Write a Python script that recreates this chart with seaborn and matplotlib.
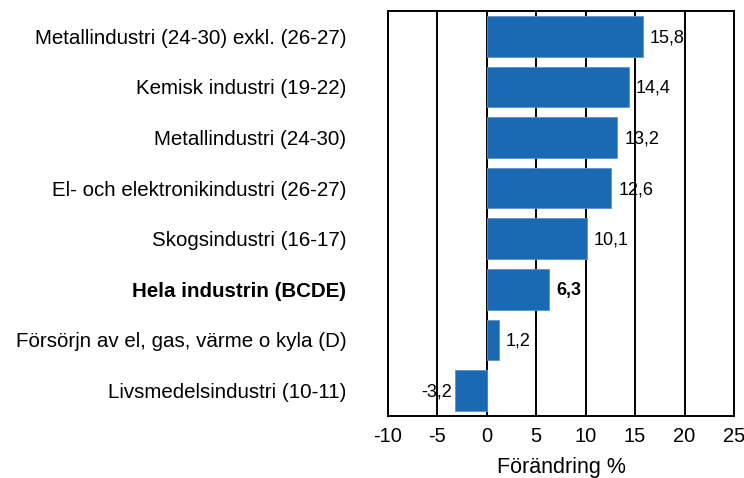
import matplotlib
matplotlib.use('Agg')
import matplotlib.pyplot as plt
import seaborn as sns
import pandas as pd

# Data
categories = [
    "Metallindustri (24-30) exkl. (26-27)",
    "Kemisk industri (19-22)",
    "Metallindustri (24-30)",
    "El- och elektronikindustri (26-27)",
    "Skogsindustri (16-17)",
    "Hela industrin (BCDE)",
    "Försörjn av el, gas, värme o kyla (D)",
    "Livsmedelsindustri (10-11)",
]
values = [15.8, 14.4, 13.2, 12.6, 10.1, 6.3, 1.2, -3.2]
bold_category = "Hela industrin (BCDE)"
x_ticks = [-10, -5, 0, 5, 10, 15, 20, 25]

df = pd.DataFrame({"kategori": categories, "forandring": values})

sns.set_style("white")
plt.rcParams["font.family"] = ["Liberation Sans", "DejaVu Sans"]
plt.rcParams["text.color"] = "black"
plt.rcParams["axes.labelcolor"] = "black"
plt.rcParams["xtick.color"] = "black"
plt.rcParams["ytick.color"] = "black"

fig = plt.figure(figsize=(7.44, 4.78), dpi=100)
ax = fig.add_axes([0.5215, 0.13, 0.465, 0.847])

sns.barplot(data=df, x="forandring", y="kategori", orient="h",
            color="#1a69b3", saturation=1, width=0.8, ax=ax,
            edgecolor="#5b95cf", linewidth=0.6, zorder=3)

ax.set_xlim(-10, 25)
ax.set_xticks(x_ticks)
ax.set_xticklabels([str(t) for t in x_ticks], fontsize=14.5)
ax.xaxis.grid(True, color="black", linewidth=1.4, zorder=0)
ax.set_axisbelow(True)
ax.tick_params(axis="x", length=0, pad=8)
ax.set_ylabel("")
ax.set_xlabel("Förändring %", fontsize=15.5, labelpad=8)

for lbl in ax.get_yticklabels():
    lbl.set_fontsize(14.8)
    lbl.set_verticalalignment("center_baseline")
    if lbl.get_text() == bold_category:
        lbl.set_fontweight("bold")
ax.tick_params(axis="y", length=0, pad=30)

for spine in ax.spines.values():
    spine.set_visible(True)
    spine.set_color("black")
    spine.set_linewidth(1.4)

for i, (cat, v) in enumerate(zip(categories, values)):
    txt = f"{v:.1f}".replace(".", ",")
    weight = "bold" if cat == bold_category else "normal"
    if v >= 0:
        ax.annotate(txt, (v, i), xytext=(5, -1), textcoords="offset points",
                    ha="left", va="center", fontsize=13, fontweight=weight)
    else:
        ax.annotate(txt, (v, i), xytext=(-2, -1), textcoords="offset points",
                    ha="right", va="center", fontsize=13, fontweight=weight)

fig.savefig("out.png", dpi=100)
plt.close(fig)
